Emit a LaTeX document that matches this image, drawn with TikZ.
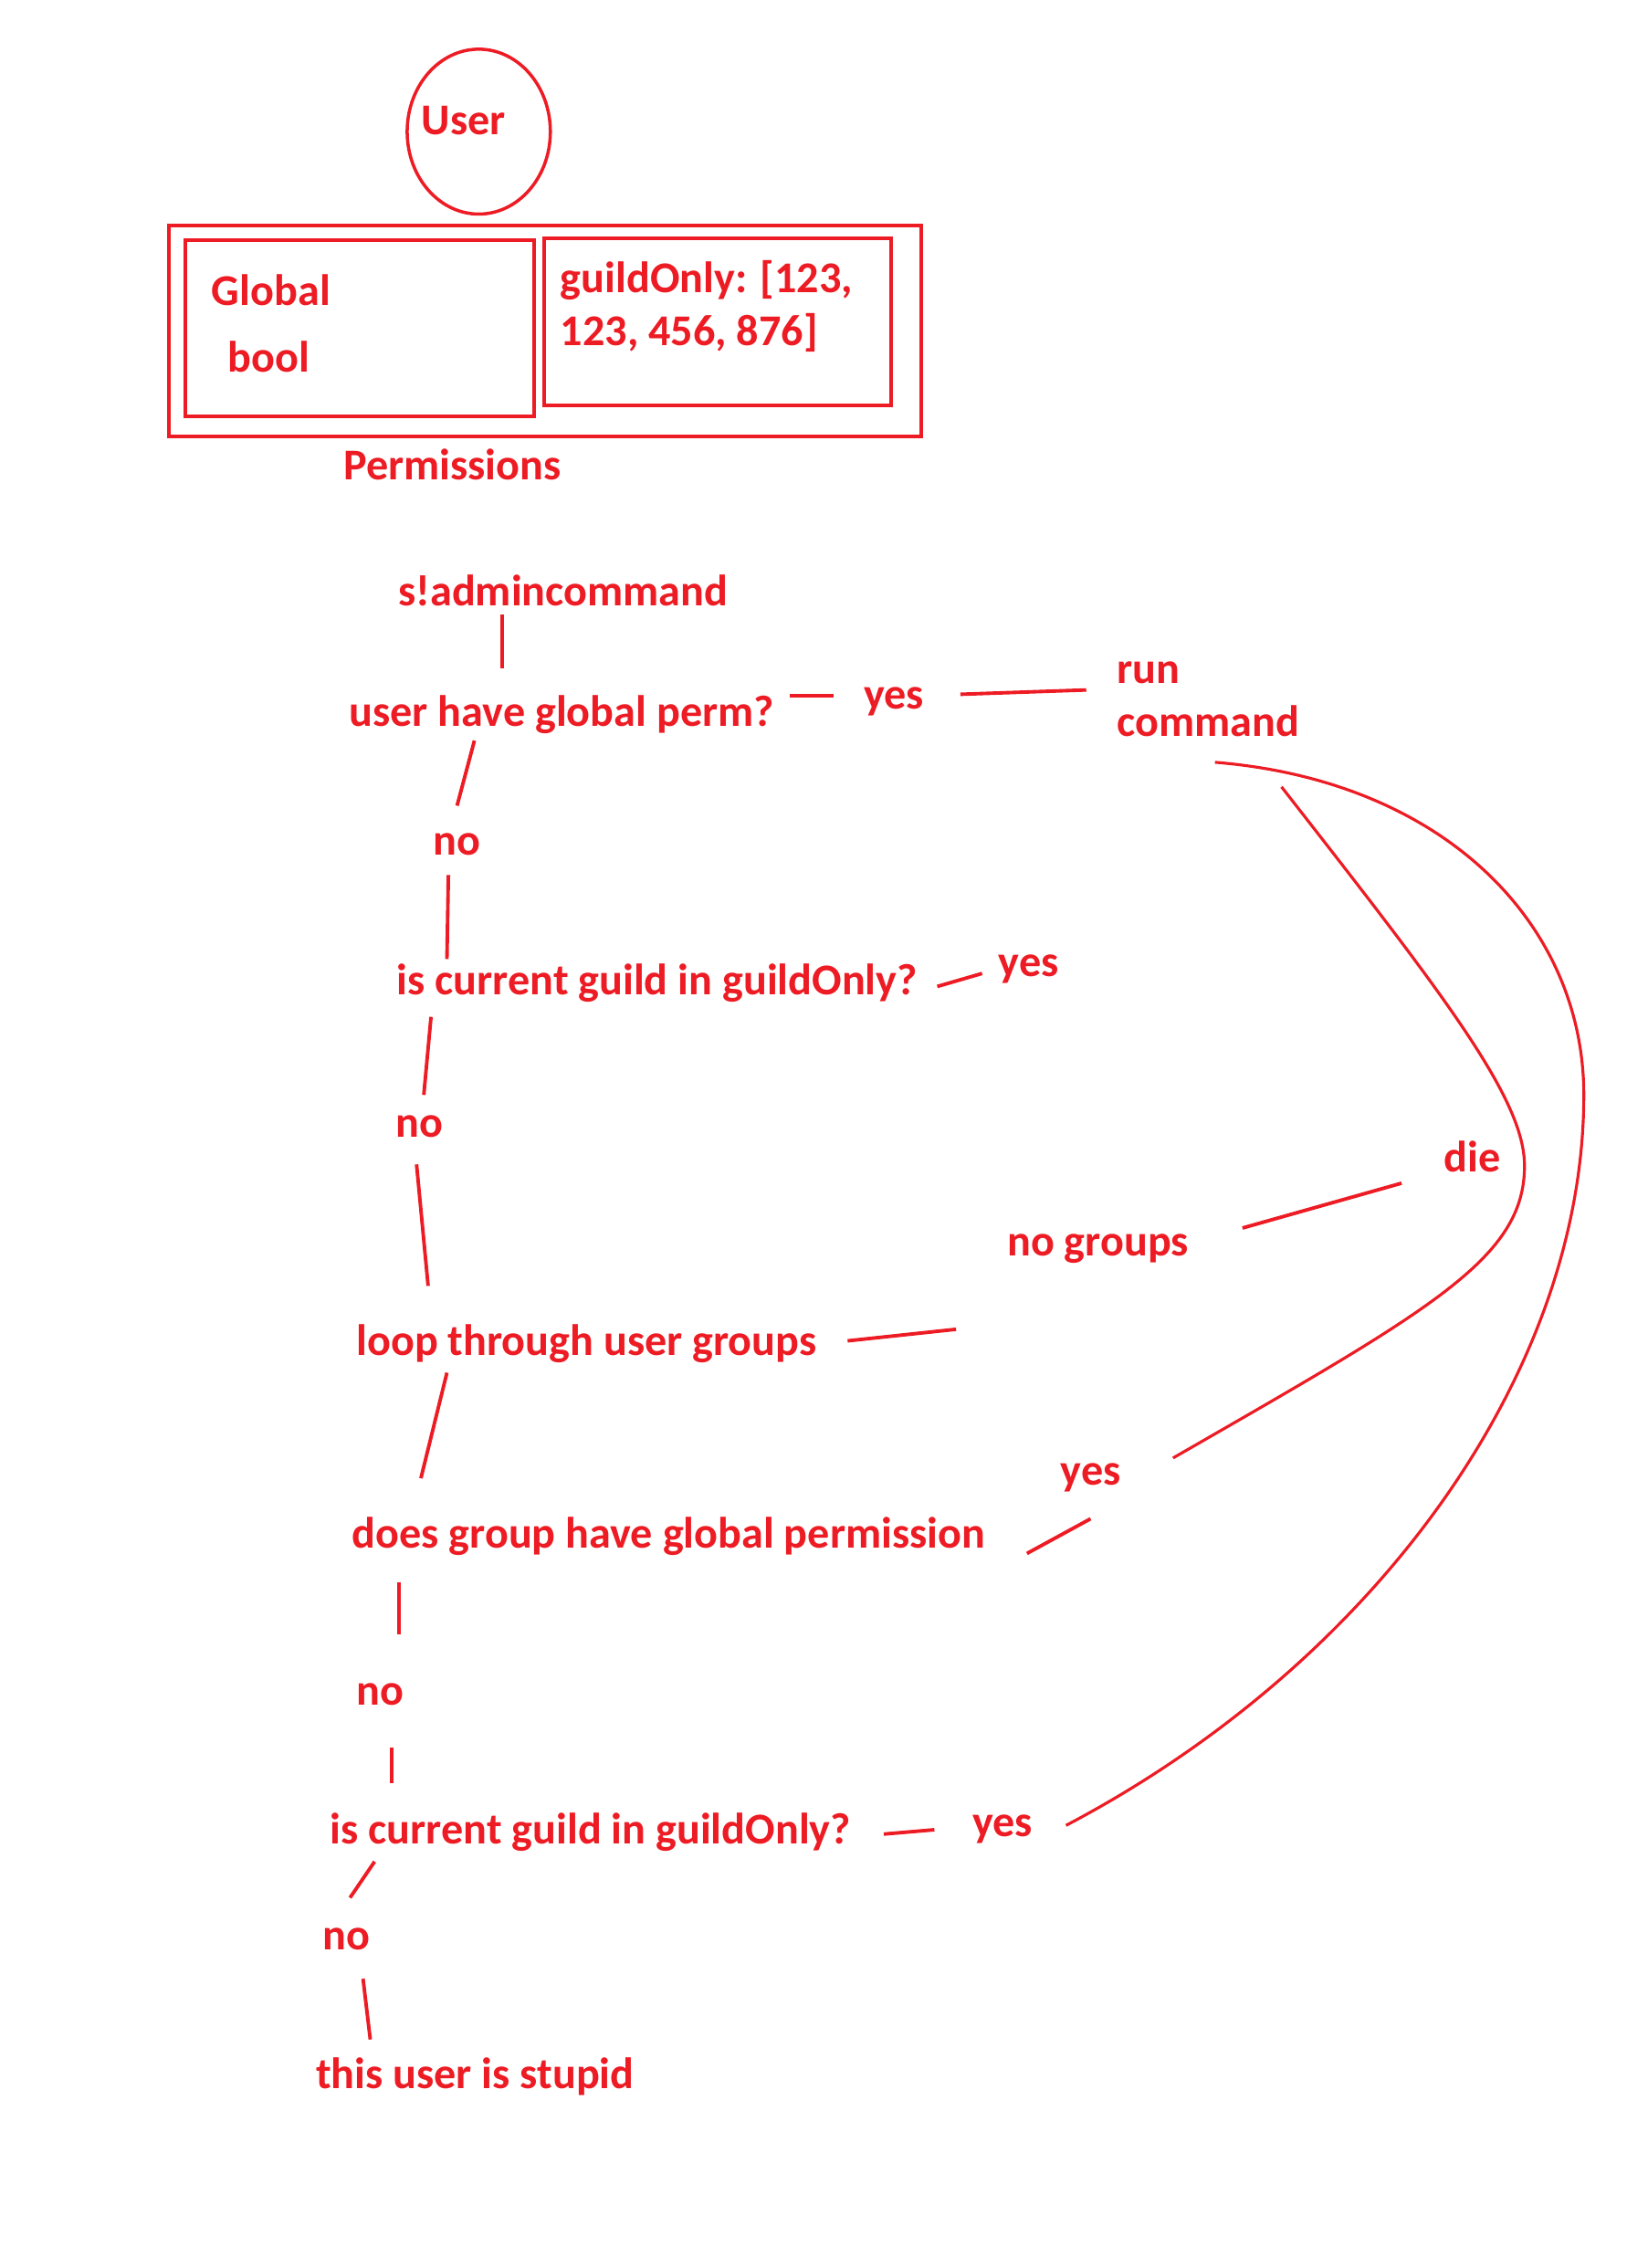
\documentclass[tikz,border=0pt]{standalone}
\usepackage{fontspec}
\setmainfont{Carlito}
\usepackage{xcolor}
\usepackage{tikz}
\usetikzlibrary{calc,shapes.geometric}
\definecolor{pen}{HTML}{ED1C24}
\newcommand{\unitpx}{0.01584cm}
\newcommand{\pfont}{\bfseries\fontsize{13.7}{16.6}\selectfont}
\tikzset{
  lbl/.style={anchor=base west,inner sep=0pt,text=pen,font=\pfont,align=left},
  box/.style={draw=pen,line width=1.1pt,inner sep=0pt},
  blob/.style={ellipse,draw=pen,line width=1pt,inner sep=0pt},
  link/.style={draw=pen,line width=1.1pt},
  curvelink/.style={draw=pen,line width=0.9pt}
}

\begin{document}
\begin{tikzpicture}[x=\unitpx,y=-\unitpx]
  \useasboundingbox (0,0) rectangle (1139,1568);
  % user and permissions
  \node[blob,minimum width=99*\unitpx,minimum height=114*\unitpx] (userblob) at (331,91) {};
  \node[lbl] (user) at (291,93) {User};
  \node[box,minimum width=520*\unitpx,minimum height=146*\unitpx] (permbox) at (377,229) {};
  \node[box,minimum width=241*\unitpx,minimum height=122*\unitpx] (globbox) at (248.5,227) {};
  \node[box,minimum width=240*\unitpx,minimum height=115*\unitpx] (guildbox) at (496,222.5) {};
  \node[lbl] (glob) at (146,211) {Global};
  \node[lbl] (booltxt) at (157,257) {bool};
  \node[lbl] (guildonly) at (387,239) {guildOnly: [123,\\123, 456, 876]};
  \node[lbl] (perm) at (237,332) {Permissions};
  % flow
  \node[lbl] (cmd) at (275,419) {s!admincommand};
  \node[lbl] (q1) at (241,502) {user have global perm?};
  \node[lbl] (yes1) at (597,490) {yes};
  \node[lbl] (run) at (772,509) {run\\command};
  \node[lbl] (no1) at (299,591) {no};
  \node[lbl] (q2) at (274,688) {is current guild in guildOnly?};
  \node[lbl] (yes2) at (690,675) {yes};
  \node[lbl] (no2) at (273,786) {no};
  \node[lbl] (die) at (998,810) {die};
  \node[lbl] (nogrp) at (696,868) {no groups};
  \node[lbl] (loop) at (246,937) {loop through user groups};
  \node[lbl] (yes3) at (733,1027) {yes};
  \node[lbl] (q3) at (243,1070) {does group have global permission};
  \node[lbl] (no3) at (246,1179) {no};
  \node[lbl] (q4) at (228,1275) {is current guild in guildOnly?};
  \node[lbl] (yes4) at (672,1270) {yes};
  \node[lbl] (no4) at (223,1348) {no};
  \node[lbl] (stupid) at (218,1444) {this user is stupid};
  % strokes
  \draw[link] ($(cmd.base west)+(72,6)$) -- ($(q1.base west)+(106,-40)$);
  \draw[link] ($(q1.base west)+(305,-21)$) -- ($(yes1.base west)+(-21,-9)$);
  \draw[link] ($(yes1.base west)+(67,-10)$) -- ($(run.base west)+(-21,-32)$);
  \draw[link] ($(q1.base west)+(87,10)$) -- ($(no1.base west)+(17,-34)$);
  \draw[link] ($(no1.base west)+(11,14)$) -- ($(q2.base west)+(35,-25)$);
  \draw[link] ($(q2.base west)+(374,-6)$) -- ($(yes2.base west)+(-11,-2)$);
  \draw[link] ($(q2.base west)+(24,15)$) -- ($(no2.base west)+(20,-29)$);
  \draw[link] ($(no2.base west)+(15,19)$) -- ($(loop.base west)+(50,-48)$);
  \draw[link] ($(loop.base west)+(340,-10)$) -- ($(nogrp.base west)+(-35,51)$);
  \draw[link] ($(nogrp.base west)+(163,-19)$) -- ($(die.base west)+(-29,8)$);
  \draw[link] ($(loop.base west)+(63,12)$) -- ($(q3.base west)+(48,-48)$);
  \draw[link] ($(q3.base west)+(467,4)$) -- ($(yes3.base west)+(21,23)$);
  \draw[link] ($(q3.base west)+(33,24)$) -- ($(no3.base west)+(30,-49)$);
  \draw[link] ($(no3.base west)+(25,29)$) -- ($(q4.base west)+(43,-42)$);
  \draw[link] ($(q4.base west)+(383,-7)$) -- ($(yes4.base west)+(-26,-5)$);
  \draw[link] ($(q4.base west)+(31,12)$) -- ($(no4.base west)+(19,-36)$);
  \draw[link] ($(no4.base west)+(28,20)$) -- ($(stupid.base west)+(38,-34)$);
  % long bends back to run command
  \draw[curvelink] ($(run.base west)+(114,35)$) .. controls (1000,690) and (1054,760) .. (1054,806)
    .. controls (1054,870) and (990,905) .. ($(yes3.base west)+(78,-19)$);
  \draw[curvelink] ($(run.base west)+(68,18)$) .. controls (1000,540) and (1095,640) .. (1095,757)
    .. controls (1095,950) and (950,1150) .. ($(yes4.base west)+(65,-8)$);
\end{tikzpicture}
\end{document}
